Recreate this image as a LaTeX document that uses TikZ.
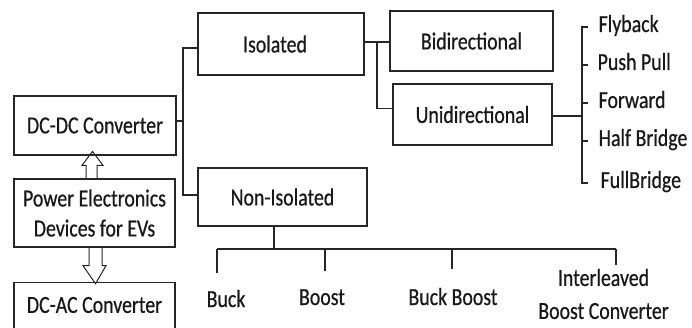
\documentclass[tikz,border=0pt]{standalone}
\usepackage{fontspec}
\setmainfont{Carlito}[FakeStretch=0.81, FakeBold=0.6]
\usetikzlibrary{calc}
\begin{document}
\begin{tikzpicture}[x=1pt,y=-1pt,
  line width=1.3pt, draw=black!85,
  txt/.style={font=\fontsize{24.5}{31}\selectfont, text=black!90},
  box/.style={draw=black!85, line width=1.3pt, inner sep=0pt, txt, align=center},
  item/.style={txt, inner sep=0pt, anchor=west, text height=15pt, text depth=5pt},
  leaf/.style={txt, inner sep=0pt},
  wire/.style={draw=black!85, line width=1.3pt},
  hollow/.style={draw=black!85, line width=1pt, line join=miter}]
\useasboundingbox (0,0) rectangle (692,328);

% left column
\node[box, minimum width=162pt, minimum height=59pt] (dcdc) at (95,125.5) {DC-DC Converter};
\node[box, minimum width=161pt, minimum height=68pt] (pe) at (94.5,213) {Power Electronics\\[-1pt]Devices for EVs};
\node[box, minimum width=161pt, minimum height=56pt, anchor=north] (dcac) at (94.5,282) {};
\node[leaf] (dcactxt) at (94.5,305) {DC-AC Converter};

% hollow block arrows
\draw[hollow] ($(pe.north)+(-8.5,0)$) -- ($(pe.north)+(-8.5,-13)$) -- ($(pe.north)+(-12.5,-13)$)
  -- ($(pe.north)+(-2,-27)$) -- ($(pe.north)+(8.5,-13)$) -- ($(pe.north)+(2.5,-13)$) -- ($(pe.north)+(2.5,0)$);
\draw[hollow] ($(pe.south)+(-5.5,0)$) -- ($(pe.south)+(-5.5,18)$) -- ($(pe.south)+(-11.5,18)$)
  -- ($(pe.south)+(1,36)$) -- ($(pe.south)+(11.5,18)$) -- ($(pe.south)+(7.5,18)$) -- ($(pe.south)+(7.5,0)$);

% second level
\node[box, minimum width=166pt, minimum height=62pt] (iso) at (281,44) {Isolated\hspace*{12pt}};
\node[box, minimum width=169pt, minimum height=58pt] (noniso) at (282.5,197) {Non-Isolated};

% third level
\node[box, minimum width=163pt, minimum height=60pt] (bid) at (471.5,41) {Bidirectional};
\node[box, minimum width=159pt, minimum height=61pt] (uni) at (472.5,114.5) {Unidirectional};

% isolated topologies
\node[item] (fly)  at (598,27)  {Flyback};
\node[item] (push) at (597,65)  {Push Pull};
\node[item] (fwd)  at (598,103) {Forward};
\node[item] (half) at (598,141) {Half Bridge};
\node[item] (full) at (600,183) {FullBridge};

% non-isolated topologies
\node[leaf, anchor=base] (buck)  at (226,307) {Buck};
\node[leaf, anchor=base] (boost) at (322,305) {Boost};
\node[leaf, anchor=base] (bb)    at (453,305) {Buck Boost};
\node[leaf, align=center, font=\fontsize{24.5}{33}\selectfont] (inter) at (603.5,294) {Interleaved\\Boost Converter};

% junction points
\coordinate (j1) at (183,121);
\coordinate (j2) at (377,42);
\coordinate (j3) at (582,116);
\coordinate (tk) at (588,0);
\coordinate (b0) at (274,249);
\coordinate (d1) at (217,273);
\coordinate (d2) at (325,271);
\coordinate (d3) at (452,269);
\coordinate (d4) at (616,265);

% converter tree
\draw[wire] (dcdc.east |- j1) -- (j1);
\draw[wire] ([yshift=-4pt]iso.west) -| (j1) |- ([yshift=2pt]noniso.west);
\draw[wire] (iso.east |- j2) -- (bid.west |- j2);
\draw[wire] (j2) |- ([yshift=6pt]uni.west);

% unidirectional branch
\draw[wire] (uni.east |- j3) -- (j3);
\draw[wire] (fly.west -| tk) -- (fly.west -| j3) -- (full.west -| j3) -- (full.west -| tk);
\draw[wire] (push.west -| j3) -- (push.west -| tk);
\draw[wire] (fwd.west -| j3) -- (fwd.west -| tk);
\draw[wire] (half.west -| j3) -- (half.west -| tk);

% non-isolated branch
\draw[wire] (noniso.south -| b0) -- (b0);
\draw[wire] (d1 |- b0) -- (d4 |- b0);
\draw[wire] (d1 |- b0) -- (d1);
\draw[wire] (d2 |- b0) -- (d2);
\draw[wire] (d3 |- b0) -- (d3);
\draw[wire] (d4 |- b0) -- (d4);
\end{tikzpicture}
\end{document}
